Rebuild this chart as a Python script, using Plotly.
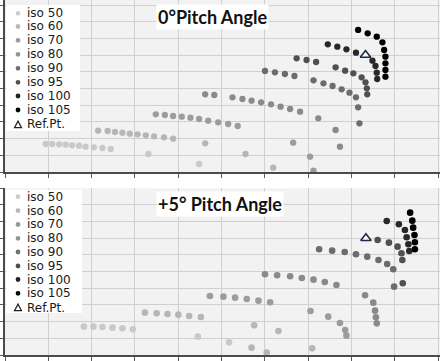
import plotly.graph_objects as go

W, H = 445, 361

names = ["iso 50", "iso 60", "iso 70", "iso 80", "iso 90", "iso 95", "iso 100", "iso 105"]
colors = ["#c9c9c9", "#b6b6b6", "#9c9c9c", "#8a8a8a", "#6c6c6c", "#505050", "#282828", "#000000"]
legend_colors = ["#cccccc", "#b8b8b8", "#9a9a9a", "#959595", "#707070", "#505050", "#222222", "#000000"]

# ---- top panel (0 deg pitch) ----
top_iso50_x = [0.94, 1.09, 1.25, 1.40, 1.55, 1.71, 1.86, 2.05, 2.25, 2.44, 3.31, 4.48]
top_iso50_y = [1.68, 1.68, 1.66, 1.64, 1.60, 1.58, 1.52, 1.48, 1.44, 1.38, 1.08, 0.48]
top_iso60_x = [2.15, 2.37, 2.54, 2.71, 2.88, 3.06, 3.25, 3.44, 3.67, 3.88, 4.62, 5.55, 6.19]
top_iso60_y = [2.48, 2.46, 2.40, 2.36, 2.30, 2.26, 2.20, 2.14, 2.08, 2.00, 1.72, 1.08, 0.26]
top_iso70_x = [3.48, 3.69, 3.88, 4.08, 4.28, 4.48, 4.69, 4.92, 5.15, 5.37, 6.65, 7.04, 7.12]
top_iso70_y = [3.46, 3.42, 3.36, 3.32, 3.26, 3.18, 3.08, 2.98, 2.88, 2.76, 1.76, 0.92, 0.08]
top_iso80_x = [4.62, 4.83, 5.25, 5.48, 5.69, 5.91, 6.14, 6.36, 6.58, 6.81, 7.23, 7.63, 7.73]
top_iso80_y = [4.66, 4.62, 4.48, 4.38, 4.28, 4.18, 4.06, 3.92, 3.78, 3.62, 3.22, 2.52, 1.52]
top_iso90_x = [6.00, 6.23, 6.46, 6.68, 7.12, 7.35, 7.56, 7.77, 7.95, 8.10, 8.15, 8.18]
top_iso90_y = [6.06, 5.98, 5.88, 5.76, 5.50, 5.32, 5.16, 4.96, 4.76, 4.48, 3.88, 2.92]
top_iso95_x = [6.73, 6.96, 7.18, 7.63, 7.85, 8.04, 8.23, 8.32, 8.35, 8.36]
top_iso95_y = [6.82, 6.72, 6.60, 6.28, 6.08, 5.92, 5.68, 5.38, 5.02, 4.66]
top_iso100_x = [7.45, 7.67, 7.88, 8.10, 8.48, 8.55, 8.58, 8.59]
top_iso100_y = [7.66, 7.52, 7.36, 7.16, 6.68, 6.36, 5.96, 5.58]
top_iso105_x = [8.15, 8.37, 8.58, 8.71, 8.75, 8.78, 8.78, 8.78, 8.78]
top_iso105_y = [8.52, 8.32, 8.12, 7.78, 7.32, 6.92, 6.52, 6.12, 5.72]
top_ref_x = [8.32]
top_ref_y = [7.02]

# ---- bottom panel (+5 deg pitch) ----
bot_iso50_x = [1.82, 2.04, 2.25, 2.48, 2.71, 2.95, 4.45, 5.17]
bot_iso50_y = [1.70, 1.70, 1.68, 1.64, 1.60, 1.54, 1.10, 0.76]
bot_iso60_x = [3.23, 3.50, 3.75, 4.00, 4.25, 4.52, 5.75, 5.69, 6.31, 6.04, 7.09]
bot_iso60_y = [2.54, 2.50, 2.46, 2.42, 2.34, 2.28, 1.78, 0.44, 1.44, 0.14, 0.40]
bot_iso70_x = [4.73, 5.04, 5.31, 5.58, 5.85, 6.12, 7.05, 7.46, 7.73, 7.85, 7.88]
bot_iso70_y = [3.54, 3.50, 3.44, 3.36, 3.26, 3.16, 2.64, 2.30, 1.92, 1.50, 1.16]
bot_iso80_x = [6.00, 6.28, 6.58, 6.85, 7.12, 7.38, 7.65, 8.31, 8.50, 8.54, 8.56, 8.58]
bot_iso80_y = [4.84, 4.78, 4.72, 4.62, 4.52, 4.38, 4.20, 3.58, 3.14, 2.66, 2.26, 1.90]
bot_iso90_x = [7.25, 7.55, 7.84, 8.10, 8.36, 8.62, 8.82, 8.96, 8.98]
bot_iso90_y = [6.34, 6.26, 6.18, 6.04, 5.90, 5.70, 5.46, 5.14, 4.10]
bot_iso95_x = [8.60, 8.86, 9.06, 9.15, 9.17, 9.18]
bot_iso95_y = [6.90, 6.74, 6.50, 6.10, 5.70, 4.30]
bot_iso100_x = [8.81, 9.09, 9.23, 9.27, 9.31, 9.33]
bot_iso100_y = [8.04, 7.84, 7.50, 7.06, 6.64, 6.24]
bot_iso105_x = [9.35, 9.40, 9.42, 9.45, 9.46, 9.46]
bot_iso105_y = [8.54, 8.06, 7.64, 7.20, 6.76, 6.34]
bot_ref_x = [8.33]
bot_ref_y = [7.00]

titles = ["0°Pitch Angle", "+5° Pitch Angle"]

top_series = [(top_iso50_x, top_iso50_y), (top_iso60_x, top_iso60_y), (top_iso70_x, top_iso70_y),
              (top_iso80_x, top_iso80_y), (top_iso90_x, top_iso90_y), (top_iso95_x, top_iso95_y),
              (top_iso100_x, top_iso100_y), (top_iso105_x, top_iso105_y)]
bot_series = [(bot_iso50_x, bot_iso50_y), (bot_iso60_x, bot_iso60_y), (bot_iso70_x, bot_iso70_y),
              (bot_iso80_x, bot_iso80_y), (bot_iso90_x, bot_iso90_y), (bot_iso95_x, bot_iso95_y),
              (bot_iso100_x, bot_iso100_y), (bot_iso105_x, bot_iso105_y)]

fig = go.Figure()

for (xs, ys), nm, c in zip(top_series, names, colors):
    fig.add_trace(go.Scatter(x=xs, y=ys, mode="markers", name=nm, xaxis="x", yaxis="y",
                             marker=dict(size=6.3, color=c), showlegend=False))
fig.add_trace(go.Scatter(x=top_ref_x, y=top_ref_y, mode="markers", name="Ref.Pt.", xaxis="x", yaxis="y",
                         marker=dict(symbol="triangle-up", size=9, color="white",
                                     line=dict(color="#1c2a48", width=1.6)), showlegend=False))
for (xs, ys), nm, c in zip(bot_series, names, colors):
    fig.add_trace(go.Scatter(x=xs, y=ys, mode="markers", name=nm, xaxis="x2", yaxis="y2",
                             marker=dict(size=6.6, color=c), showlegend=False))
fig.add_trace(go.Scatter(x=bot_ref_x, y=bot_ref_y, mode="markers", name="Ref.Pt.", xaxis="x2", yaxis="y2",
                         marker=dict(symbol="triangle-up", size=9, color="white",
                                     line=dict(color="#1c2a48", width=1.6)), showlegend=False))

def px(v):
    return v / W

def py(v):
    return 1 - v / H

xdom = [px(5), px(440)]
ax_common = dict(showticklabels=False, ticks="outside", ticklen=4, tickcolor="#595959", tickwidth=1,
                 showline=True, linecolor="#4a4a4a", linewidth=1.5, gridcolor="#d0d0d0", gridwidth=1,
                 zeroline=False, dtick=1, tick0=0, fixedrange=True)

fig.update_layout(
    width=W, height=H, margin=dict(l=0, r=0, t=0, b=0),
    paper_bgcolor="white", plot_bgcolor="#f2f2f2", showlegend=False,
    xaxis=dict(domain=xdom, range=[0, 435 / 43.33], anchor="y", **ax_common),
    yaxis=dict(domain=[py(172), 1], range=[0, 172 / 16.67], anchor="x", **ax_common),
    xaxis2=dict(domain=xdom, range=[0, 435 / 43.33], anchor="y2", **ax_common),
    yaxis2=dict(domain=[py(355), py(188.3)], range=[0, 10], anchor="x2", **ax_common),
)

shapes = []
annotations = []
legend_labels = names + ["Ref.Pt."]
panels = [
    dict(box=(6, 5, 80, 131), ys=[13.3, 26.5, 40.3, 54.3, 68.3, 82.3, 96.0, 110.0, 124.5], title_xy=(212.5, 17.5)),
    dict(box=(6, 190, 82, 313), ys=[196.7, 210.7, 224.5, 238.3, 252.0, 266.0, 279.5, 293.3, 307.5], title_xy=(219.5, 204)),
]
for pi, p in enumerate(panels):
    x0, y0, x1, y1 = p["box"]
    shapes.append(dict(type="rect", xref="paper", yref="paper", x0=px(x0), x1=px(x1), y0=py(y1), y1=py(y0),
                       fillcolor="white", line=dict(width=0), layer="above"))
    for i, (lab, yy) in enumerate(zip(legend_labels, p["ys"])):
        if i < 8:
            r = 2.4
            shapes.append(dict(type="circle", xref="paper", yref="paper", x0=px(18 - r), x1=px(18 + r),
                               y0=py(yy + r), y1=py(yy - r), fillcolor=legend_colors[i],
                               line=dict(width=0), layer="above"))
        else:
            shapes.append(dict(type="path", xref="paper", yref="paper",
                               path="M %f,%f L %f,%f L %f,%f Z" % (px(14.5), py(yy + 3.2), px(21.5), py(yy + 3.2),
                                                                   px(18), py(yy - 3.4)),
                               fillcolor="white", line=dict(color="#222222", width=1.2), layer="above"))
        annotations.append(dict(xref="paper", yref="paper", x=px(26), y=py(yy), xanchor="left", yanchor="middle",
                                text=lab, showarrow=False, borderpad=0,
                                font=dict(family="DejaVu Sans", size=12, color="#1a1a1a")))
    tx, ty = p["title_xy"]
    annotations.append(dict(xref="paper", yref="paper", x=px(tx), y=py(ty), xanchor="center", yanchor="middle",
                            text="<b>%s</b>" % titles[pi], showarrow=False, bgcolor="white", borderpad=1,
                            font=dict(family="Lato", size=18, color="#111111")))

fig.update_layout(shapes=shapes, annotations=annotations)
fig.write_html("out.html", config={"displayModeBar": False},
               post_script="document.body.style.margin='0';document.body.style.overflow='hidden';")
